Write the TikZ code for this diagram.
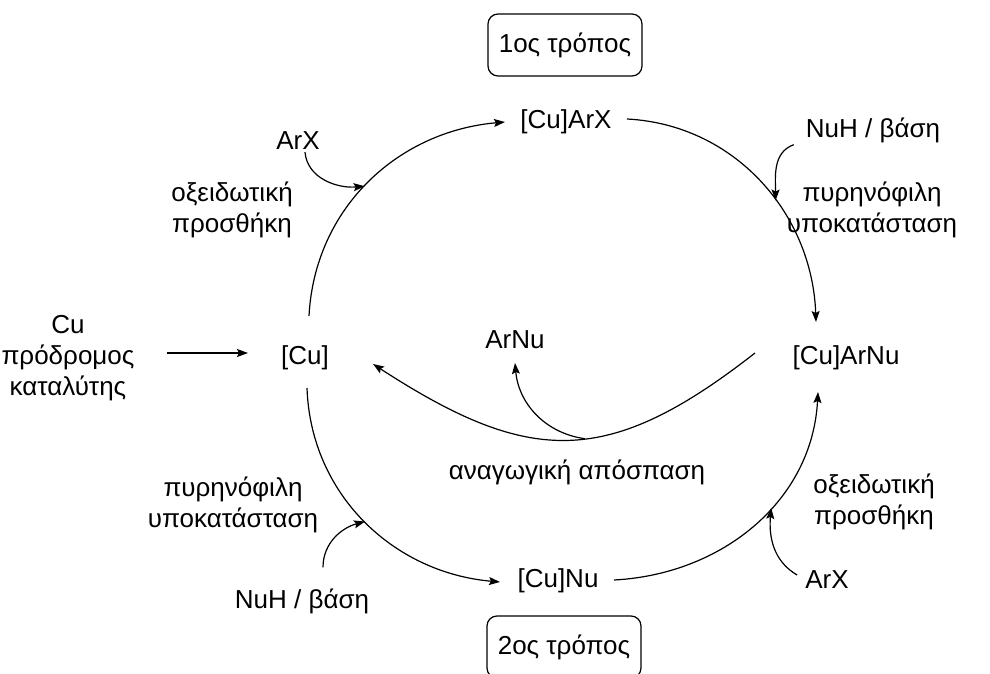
\documentclass[tikz,border=0pt]{standalone}
\usepackage{fontspec}
\setmainfont{Liberation Sans}
\usetikzlibrary{arrows.meta,positioning}
\tikzset{
  sp/.style={font=\fontsize{26}{31}\selectfont, inner sep=2pt},
  lbl/.style={sp, align=center},
  way/.style={sp, draw, line width=1.2pt, rounded corners=10pt, minimum width=154pt, minimum height=62pt},
  cyc/.style={line width=1.2pt, -{Stealth[length=11pt,width=8pt,inset=2pt]}},
}
\begin{document}
\begin{tikzpicture}[x=1pt,y=1pt]
\useasboundingbox (0,0) rectangle (990,673);
\node[way] (way1) at (565,628) {1ος τρόπος};
\node[way] (way2) at (564,26) {2ος τρόπος};
\node[sp] (Cu) at (305,315) {[Cu]};
\node[sp] (CuArX) at (566,551) {[Cu]ArX};
\node[sp] (CuArNu) at (846,315) {[Cu]ArNu};
\node[sp] (CuNu) at (558,92) {[Cu]Nu};
\node[sp] (ArNu) at (515,333) {ArNu};
\node[lbl] (prec) at (68,315) {Cu\\πρόδρομος\\καταλύτης};
\node[sp] (ArXa) at (298,532) {ArX};
\node[sp] (NuHa) at (873,543) {NuH / βάση};
\node[sp] (NuHb) at (302,72) {NuH / βάση};
\node[sp] (ArXb) at (827,93) {ArX};
\node[lbl] (oxa) at (232,463) {οξειδωτική\\προσθήκη};
\node[lbl] (nuca) at (872,463) {πυρηνόφιλη\\υποκατάσταση};
\node[lbl] (nucb) at (233,168) {πυρηνόφιλη\\υποκατάσταση};
\node[lbl] (oxb) at (874,171) {οξειδωτική\\προσθήκη};
\node[sp] (red) at (577,201) {αναγωγική απόσπαση};
%
\draw[cyc] ([xshift=30pt,yshift=5pt]prec.east) -- ([shift={(-57,5)}]Cu.center);
\draw[cyc] ([shift={(4,42)}]Cu.center) to[out=87,in=185] coordinate[pos=0.48] (ulx) ([xshift=-61pt]CuArX.center);
\draw[cyc] ([shift={(61,3)}]CuArX.center) to[out=-3,in=92] coordinate[pos=0.58] (urx) ([shift={(-30,36)}]CuArNu.center);
\draw[cyc] ([shift={(2,-30)}]Cu.center) to[out=-88,in=175] coordinate[pos=0.5] (llx) ([shift={(-58,-1)}]CuNu.center);
\draw[cyc] ([shift={(56,1)}]CuNu.center) to[out=3,in=-93] coordinate[pos=0.58] (lrx) ([shift={(-28,-34)}]CuArNu.center);
\draw[cyc] ([shift={(-91,5)}]CuArNu.center) to[out=218,in=-33,looseness=1.25] coordinate[pos=0.45] (rb) ([shift={(68,-6)}]Cu.center);
\draw[cyc] (rb) to[out=172,in=-85] ([yshift=-23pt]ArNu.center);
\draw[cyc] ([xshift=7pt]ArXa.south) to[out=-85,in=185] (ulx);
\draw[cyc] ([xshift=-10pt]NuHa.south west) to[out=200,in=90] (urx);
\draw[cyc] ([xshift=21pt,yshift=19pt]NuHb.north) to[out=90,in=195] (llx);
\draw[cyc] ([shift={(-6,5)}]ArXb.west) to[out=150,in=-95] (lrx);
\end{tikzpicture}
\end{document}
